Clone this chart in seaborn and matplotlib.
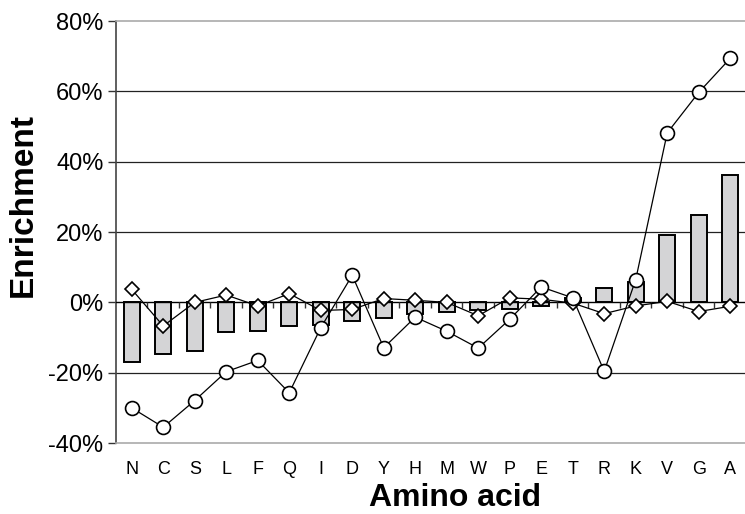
import numpy as np
import pandas as pd
import matplotlib
matplotlib.use("Agg")
import matplotlib.pyplot as plt
import seaborn as sns

#amino acids in plotted order
amino_acids = ['N', 'C', 'S', 'L', 'F', 'Q', 'I', 'D', 'Y', 'H',
               'M', 'W', 'P', 'E', 'T', 'R', 'K', 'V', 'G', 'A']

#bar series (percent)
bar_vals = [-17.0, -14.6, -13.7, -8.4, -8.2, -6.7, -6.5, -5.3, -4.4, -3.2,
            -2.8, -2.3, -1.8, -1.1, 1.2, 4.2, 5.8, 19.1, 24.8, 36.1]

#circle series (percent)
circle_vals = [-30.0, -35.5, -27.9, -19.7, -16.5, -25.7, -7.2, 7.7, -12.9, -4.2,
               -8.2, -13.0, -4.8, 4.4, 1.3, -19.6, 6.5, 48.2, 59.7, 69.4]

#diamond series (percent)
diamond_vals = [3.7, -6.7, 0.0, 2.1, -1.0, 2.5, -2.3, -2.0, 1.1, 0.6,
                0.0, -3.8, 1.3, 0.9, -0.2, -3.2, -1.0, 0.3, -2.6, -1.1]

y_ticks = [-40, -20, 0, 20, 40, 60, 80]

sns.set_style('white')
plt.rcParams['font.family'] = ['Liberation Sans', 'DejaVu Sans']
plt.rcParams['text.color'] = 'black'
plt.rcParams['xtick.color'] = 'black'
plt.rcParams['ytick.color'] = 'black'
plt.rcParams['axes.labelcolor'] = 'black'

df = pd.DataFrame({'aa': amino_acids, 'bar': bar_vals,
                   'circle': circle_vals, 'diamond': diamond_vals})

fig = plt.figure(figsize=(7.45, 5.14), dpi=100)
ax = fig.add_axes([0.1557, 0.138, 0.8456, 0.821])

#gridlines
for t in [-20, 20, 40, 60]:
    ax.axhline(t, color='#222222', lw=0.9, zorder=0)

sns.barplot(data=df, x='aa', y='bar', color='#d4d4d6', edgecolor='black',
            linewidth=1.4, width=0.52, saturation=1, ax=ax, zorder=2)

#zero axis line with category ticks
ax.axhline(0, color='black', lw=1.0, zorder=3)
xpos = np.arange(len(amino_acids))
ax.vlines(xpos[:-1] + 0.5, -1.5, 0, color='#333333', lw=1.0, zorder=3)

ax.plot(xpos, df['circle'], color='black', lw=0.9, marker='o', ms=10,
        mfc='white', mec='black', mew=1.2, zorder=5)
ax.plot(xpos, df['diamond'], color='black', lw=0.9, marker='D', ms=7.5,
        mfc='white', mec='black', mew=1.2, zorder=4)

ax.set_xlim(-0.5, len(amino_acids) - 0.5)
ax.set_ylim(-40, 80)
ax.set_yticks(y_ticks)
ax.set_yticklabels([f'{t}%' for t in y_ticks], fontsize=17)
ax.tick_params(axis='y', direction='out', length=6, width=1, color='#333333', pad=3, left=True)
ax.tick_params(axis='x', length=0, labelsize=13, pad=13)

ax.spines['left'].set_color('#444444')
ax.spines['left'].set_linewidth(1.2)
ax.spines['top'].set_color('#aaaaaa')
ax.spines['bottom'].set_color('#aaaaaa')
ax.spines['top'].set_linewidth(1.2)
ax.spines['bottom'].set_linewidth(1.2)
ax.spines['right'].set_visible(False)

ax.set_xlabel('Amino acid', fontsize=23, fontweight='bold')
ax.set_ylabel('Enrichment', fontsize=24, fontweight='bold')
ax.xaxis.set_label_coords(0.038 + 0.5, -0.095)
ax.yaxis.set_label_coords(-0.122, 0.564)

plt.savefig('out.png', dpi=100)
